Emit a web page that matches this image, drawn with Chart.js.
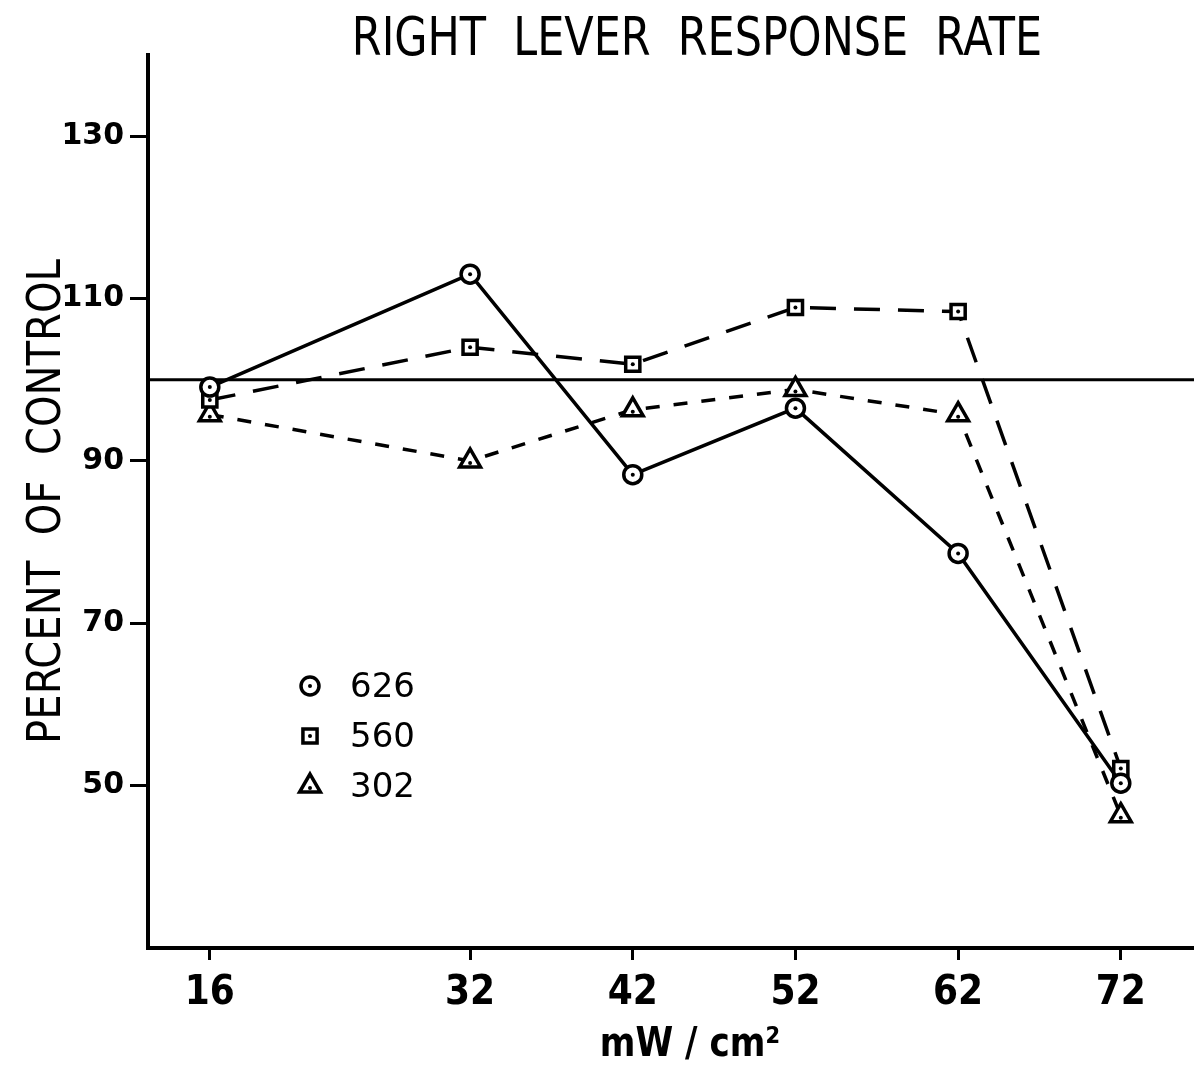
<!DOCTYPE html>
<html>
<head>
<meta charset="utf-8">
<script src="https://cdn.jsdelivr.net/npm/chart.js@4.4.1/dist/chart.umd.min.js"></script>
<style>
  html, body { margin: 0; padding: 0; background: #fff; }
  canvas { display: block; }
</style>
</head>
<body>
<canvas id="rateChart" width="1194" height="1070"></canvas>
<script>
// values
const doses = [16, 32, 42, 52, 62, 72];
const xTicks = [16, 32, 42, 52, 62, 72];
const yTicks = [50, 70, 90, 110, 130];
const series626 = [99.1, 113, 88.3, 96.5, 78.6, 50.3];
const series560 = [97.5, 104, 101.9, 108.9, 108.4, 52.1];
const series302 = [95.7, 90, 96.3, 98.8, 95.7, 46.3];
const seriesNames = ["626", "560", "302"];
const controlLevel = 100;

const narrow = "'Liberation Sans Narrow', 'DejaVu Sans Condensed', 'DejaVu Sans', sans-serif";
const plain = "'DejaVu Sans', sans-serif";

function toPoints(vals) {
  return doses.map((d, i) => ({ x: d, y: vals[i] }));
}

// helper: draw a condensed string (squeezes text horizontally)
function squeezeText(ctx, text, x, y, font, sx) {
  ctx.save();
  ctx.font = font;
  ctx.translate(x, y);
  ctx.scale(sx, 1);
  ctx.fillText(text, 0, 0);
  ctx.restore();
}

const extras = {
  id: "extras",
  beforeDatasetsDraw(chart) {
    const { ctx, chartArea, scales } = chart;
    const y = scales.y.getPixelForValue(controlLevel);
    ctx.save();
    ctx.strokeStyle = "#000";
    ctx.lineWidth = 3;
    ctx.beginPath();
    ctx.moveTo(chartArea.left, y);
    ctx.lineTo(chartArea.right, y);
    ctx.stroke();
    ctx.restore();
  },
  afterDatasetsDraw(chart) {
    const { ctx, chartArea } = chart;
    ctx.save();
    ctx.fillStyle = "#000";
    // small dots in the middle of each marker
    chart.data.datasets.forEach((ds, i) => {
      chart.getDatasetMeta(i).data.forEach(p => {
        ctx.beginPath();
        ctx.arc(p.x, p.y + (ds.pointStyle === "triangle" ? 2 : 0), 2, 0, Math.PI * 2);
        ctx.fill();
      });
    });
    // title
    ctx.textAlign = "center";
    ctx.textBaseline = "middle";
    squeezeText(ctx, "RIGHT  LEVER  RESPONSE  RATE", 697, 41, "53px " + narrow, 0.9);
    // x axis title
    squeezeText(ctx, "mW / cm²", 690, 1046, "bold 40px " + narrow, 0.95);
    // y axis title
    ctx.save();
    ctx.translate(48, (chartArea.top + chartArea.bottom) / 2);
    ctx.rotate(-Math.PI / 2);
    squeezeText(ctx, "PERCENT  OF  CONTROL", 0, 0, "46px " + narrow, 0.97);
    ctx.restore();
    // legend
    chart.data.datasets.forEach((ds, i) => {
      const lx = chartArea.left + 162;
      const ly = chartArea.top + 631 + i * 50;
      ctx.strokeStyle = "#000";
      ctx.fillStyle = "#fff";
      ctx.lineWidth = 3.5;
      Chart.helpers.drawPoint(ctx, {
        pointStyle: ds.pointStyle, rotation: 0,
        radius: ds.pointRadius, borderWidth: 3.5
      }, lx, ly);
      ctx.fillStyle = "#000";
      ctx.beginPath();
      ctx.arc(lx, ly + (ds.pointStyle === "triangle" ? 2 : 0), 2, 0, Math.PI * 2);
      ctx.fill();
      ctx.textAlign = "left";
      ctx.font = "34px " + plain;
      ctx.fillText(seriesNames[i], lx + 40, ly + 2);
    });
    ctx.restore();
  }
};

const common = {
  borderColor: "#000",
  borderWidth: 3.5,
  pointBackgroundColor: "#fff",
  pointBorderColor: "#000",
  pointBorderWidth: 3.5,
  tension: 0,
  fill: false
};

new Chart(document.getElementById("rateChart"), {
  type: "line",
  data: {
    datasets: [
      { ...common, label: seriesNames[0], data: toPoints(series626), pointStyle: "circle", pointRadius: 9 },
      { ...common, label: seriesNames[1], data: toPoints(series560), pointStyle: "rect", pointRadius: 10, borderDash: [26, 18] },
      { ...common, label: seriesNames[2], data: toPoints(series302), pointStyle: "triangle", pointRadius: 12, borderDash: [14, 14] }
    ]
  },
  plugins: [extras],
  options: {
    responsive: false,
    animation: false,
    layout: { autoPadding: false, padding: { top: 55, right: 0, left: 0, bottom: 0 } },
    plugins: { legend: { display: false }, tooltip: { enabled: false } },
    scales: {
      x: {
        type: "linear",
        min: 12.2,
        max: 76.5,
        afterBuildTicks: axis => { axis.ticks = xTicks.map(v => ({ value: v })); },
        afterFit: scale => { scale.height = 122; scale.paddingRight = 0; scale.paddingLeft = 0; },
        ticks: { color: "#000", font: { family: narrow, size: 40, weight: "bold" }, padding: 10, maxRotation: 0 },
        grid: { drawOnChartArea: false, drawTicks: true, tickLength: 12, tickWidth: 3, tickColor: "#000" },
        border: { color: "#000", width: 4 }
      },
      y: {
        min: 30,
        max: 140,
        afterBuildTicks: axis => { axis.ticks = yTicks.map(v => ({ value: v })); },
        afterFit: scale => { scale.width = 148; scale.paddingTop = 0; scale.paddingBottom = 0; },
        ticks: { color: "#000", font: { family: plain, size: 30, weight: "bold" }, padding: 6 },
        grid: { drawOnChartArea: false, drawTicks: true, tickLength: 18, tickWidth: 3, tickColor: "#000" },
        border: { color: "#000", width: 4 }
      }
    }
  }
});
</script>
</body>
</html>
